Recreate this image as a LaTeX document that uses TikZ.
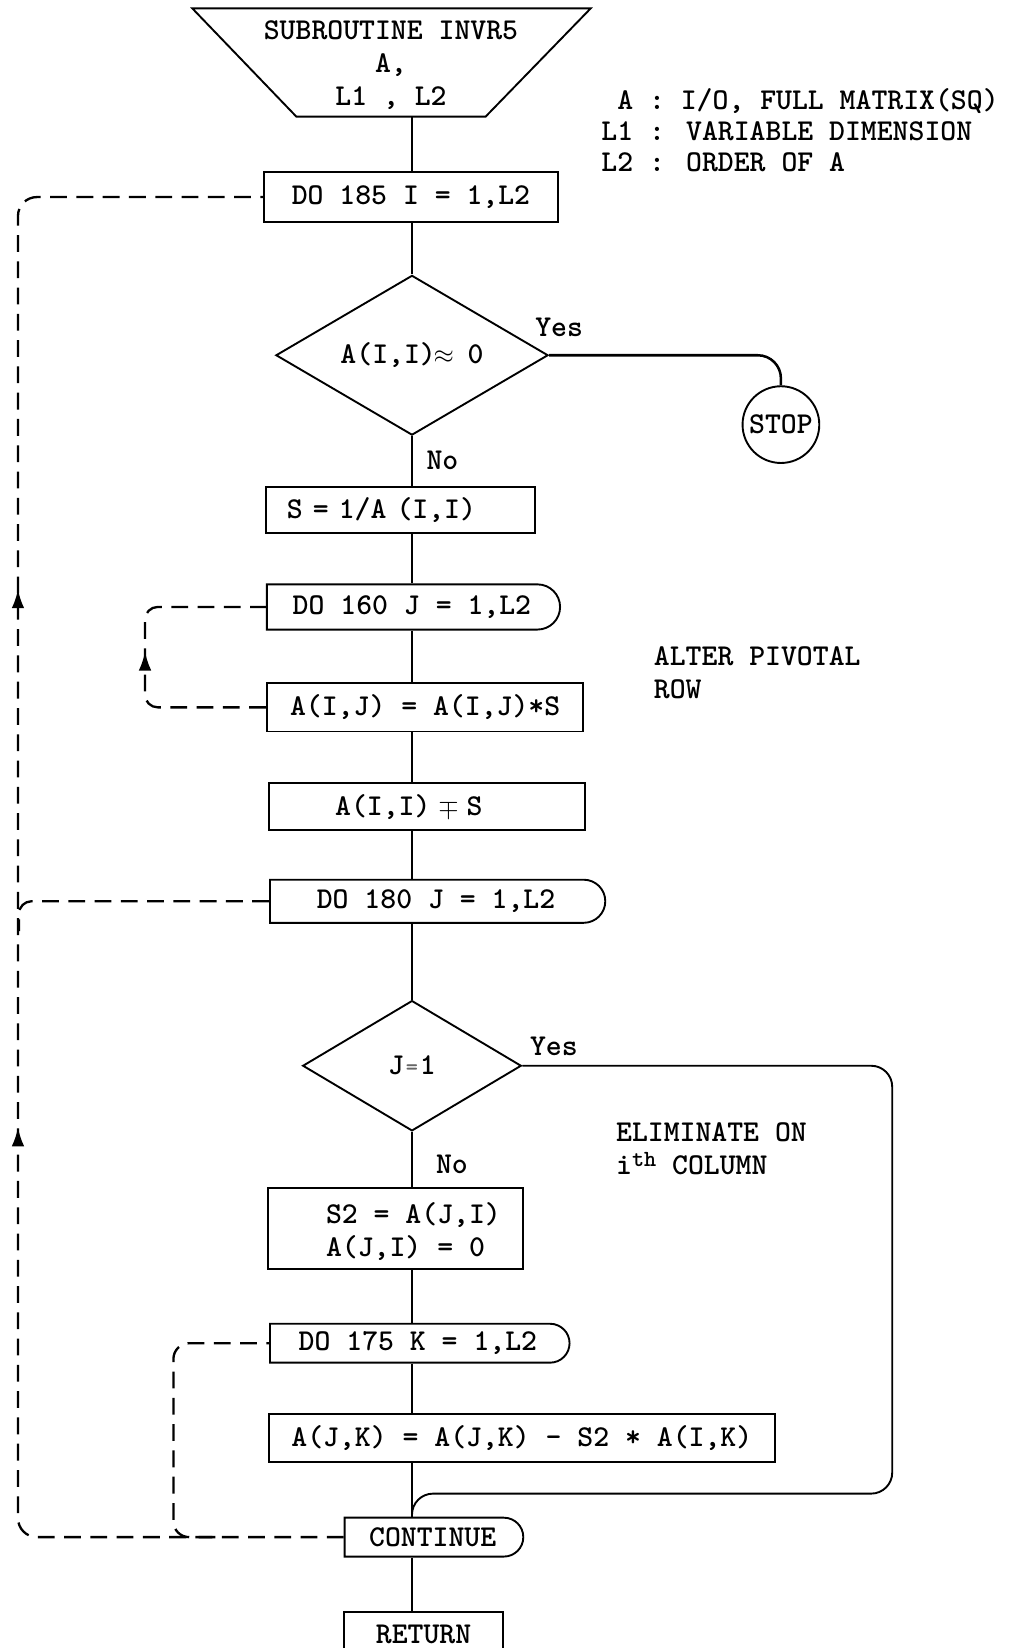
\documentclass[tikz,border=0pt]{standalone}
\usetikzlibrary{shapes.geometric,shapes.misc,arrows.meta,decorations.markings,calc}
\newcommand\flowfont{\ttfamily\bfseries\fontsize{28.8}{31}\selectfont}
\newcommand\looptip{\arrow{Latex[length=18pt,width=12pt]}}
\tikzset{
  txt/.style={font=\flowfont, inner sep=0pt},
  outline/.style={draw, line width=1.8pt},
  procbox/.style={txt, outline, rectangle},
  dobox/.style={txt, outline, rounded rectangle, rounded rectangle left arc=none},
  decision/.style={txt, outline, diamond, aspect=1.7},
  terminal/.style={txt, outline, circle},
  flow/.style={line width=1.8pt},
  loopline/.style={line width=2.2pt, dash pattern=on 16pt off 9pt},
}
\begin{document}
\begin{tikzpicture}[x=1pt,y=-1pt]
\useasboundingbox (0,0) rectangle (964,1568);
\fill[white] (0,0) rectangle (964,1568);
\clip (0,0) rectangle (964,1568);
\coordinate (mx) at (392,0);

% entry block
\draw[outline, line join=miter] (183,8) -- (562,8) -- (462,111) -- (282,111) -- cycle;
\node[txt, align=center] (trap) at (372,62) {SUBROUTINE INVR5\\A,\\L1 , L2};
\coordinate (trapbase) at (392,111);

% argument legend
\node[txt, anchor=base west] (leg1) at (572,104) {\phantom{L}A : I/O, FULL MATRIX(SQ)};
\node[txt, anchor=base west] (leg2) at (572,134) {L1 : VARIABLE DIMENSION};
\node[txt, anchor=base west] (leg3) at (572,163) {L2 : ORDER OF A};

% outer loop over pivots
\node[procbox, minimum width=280, minimum height=47] (do185) at (391,187.5) {DO 185 I = 1,L2};
\node[decision, minimum width=259, minimum height=152] (dia1) at (392,338) {A(I,I)\makebox[0.525em]{$\approx$}\ 0};
\node[txt] (yes1) at (532,311) {Yes};
\node[terminal, minimum size=73] (stop) at (743,404) {STOP};
\node[txt] (no1) at (421,438) {No};
\node[procbox, anchor=west, minimum width=256, minimum height=44, text width=216, inner xsep=20, align=left] (sbox) at (252,485) {S = 1/A (I,I)};

% pivotal row
\node[dobox, anchor=west, minimum width=279, minimum height=43] (do160) at (253,577.5) {DO 160 J = 1,L2};
\node[procbox, minimum width=301, minimum height=46] (aij) at (404.5,673) {A(I,J) = A(I,J)*S};
\node[procbox, anchor=west, minimum width=301, minimum height=45, text width=175, inner xsep=63, align=left] (aii) at (255,767.5) {A(I,I) \makebox[0.525em]{$\mp$} S};
\node[txt, align=left, anchor=west] (alter) at (622,640) {ALTER PIVOTAL\\ROW};

% elimination
\node[dobox, anchor=west, minimum width=319, minimum height=41] (do180) at (256,857.5) {DO 180 J = 1,L2};
\node[decision, minimum width=208, minimum height=124] (dia2) at (392,1014) {J\makebox[0.525em]{\color{black!60}\fontsize{22}{22}\selectfont =}1};
\node[txt] (yes2) at (527,996) {Yes};
\node[txt] (no2) at (430,1108) {No};
\node[txt, align=left, anchor=west] (elim) at (586,1093) {ELIMINATE ON\\i\smash{\raisebox{7pt}{\fontsize{22}{22}\selectfont th}} COLUMN};
\node[procbox, minimum width=243, minimum height=77] (s2box) at (376.5,1168.5) {};
\node[txt, align=left, anchor=west] (s2txt) at (310,1172) {S2 = A(J,I)\\A(J,I) = 0};
\node[dobox, anchor=west, minimum width=285, minimum height=37] (do175) at (256,1278) {DO 175 K = 1,L2};
\node[procbox, minimum width=481, minimum height=46] (ajk) at (496.5,1368) {A(J,K) = A(J,K) - S2 * A(I,K)};
\node[dobox, anchor=west, minimum width=170, minimum height=37] (cont) at (327,1462.5) {CONTINUE};
\node[procbox, minimum width=152, minimum height=42] (ret) at (403,1555) {RETURN};

% main flow
\draw[flow] (trapbase) -- (do185.north -| mx);
\draw[flow] (do185.south -| mx) -- (dia1.north);
\draw[flow] (dia1.south) -- (sbox.north -| mx);
\draw[flow] (sbox.south -| mx) -- (do160.north -| mx);
\draw[flow] (do160.south -| mx) -- (aij.north -| mx);
\draw[flow] (aij.south -| mx) -- (aii.north -| mx);
\draw[flow] (aii.south -| mx) -- (do180.north -| mx);
\draw[flow] (do180.south -| mx) -- (dia2.north);
\draw[flow] (dia2.south) -- (s2box.north -| mx);
\draw[flow] (s2box.south -| mx) -- (do175.north -| mx);
\draw[flow] (do175.south -| mx) -- (ajk.north -| mx);
\draw[flow] (ajk.south -| mx) -- (cont.north -| mx);
\draw[flow] (cont.south -| mx) -- (ret.north -| mx);

% branches
\draw[flow, line width=2.4pt, rounded corners=22] (dia1.east) -| (stop.north);
\draw[flow, rounded corners=20] (dia2.east) -- ++(352,0) |- ($(cont.north -| mx)+(0,-22)$) -- (cont.north -| mx);

% DO-loop ranges
\draw[loopline, rounded corners=18, postaction={decorate},
  decoration={markings, mark=at position 692pt with {\looptip}, mark=at position 1204pt with {\looptip}}]
  (cont.west) -| ($(do185.west)+(-233,0)$) -- (do185.west);
\draw[loopline, rounded corners=12, postaction={decorate},
  decoration={markings, mark=at position 163pt with {\looptip}}]
  (aij.west) -| ($(do160.west)+(-115,0)$) -- (do160.west);
\coordinate (j180) at (18,886);
\draw[loopline, rounded corners=12] (do180.west) -| (j180);
\coordinate (j175) at (205,1462.5);
\draw[loopline, rounded corners=15] (j175) -| ($(do175.west)+(-91,0)$) -- (do175.west);
\end{tikzpicture}
\end{document}
